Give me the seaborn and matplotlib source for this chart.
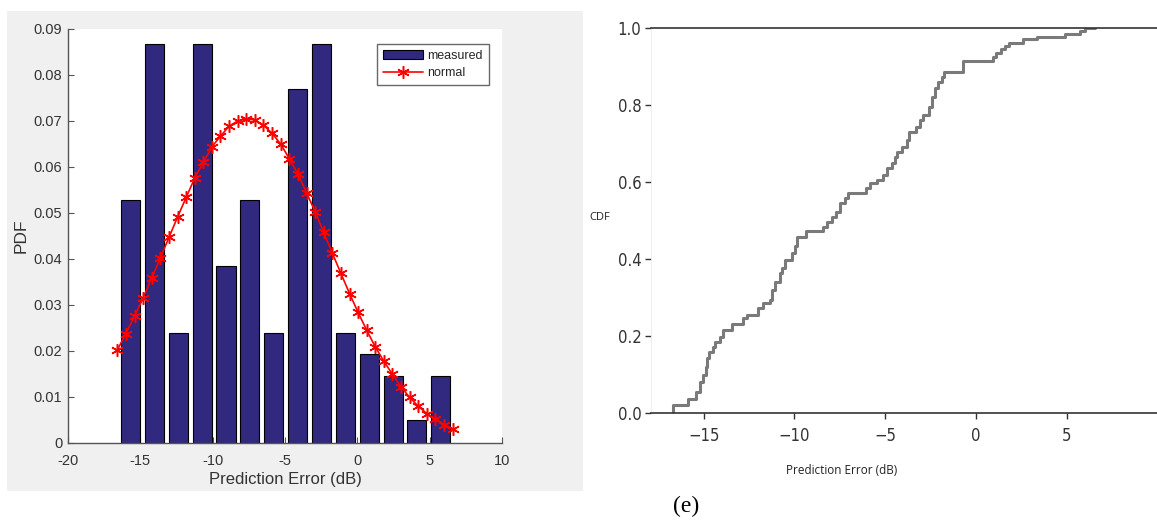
import numpy as np
import pandas as pd
import matplotlib
matplotlib.use("Agg")
import matplotlib.pyplot as plt
from matplotlib.patches import Rectangle
import seaborn as sns

# ---------------- data ----------------
bin_centers = [-15.68, -14.03, -12.38, -10.73, -9.08, -7.43, -5.78, -4.13,
               -2.48, -0.83, 0.82, 2.47, 4.12, 5.77]
pdf_measured = [0.0529, 0.0867, 0.0240, 0.0867, 0.0385, 0.0529, 0.0240, 0.0770,
                0.0867, 0.0240, 0.0193, 0.0145, 0.0049, 0.0145]

normal_x = [-16.59, -16.00, -15.40, -14.81, -14.21, -13.62, -13.02, -12.43,
            -11.83, -11.24, -10.65, -10.05, -9.46, -8.86, -8.27, -7.67,
            -7.08, -6.49, -5.89, -5.30, -4.70, -4.11, -3.51, -2.92,
            -2.33, -1.73, -1.14, -0.54, 0.05, 0.65, 1.24, 1.83,
            2.43, 3.02, 3.62, 4.21, 4.81, 5.40, 6.00, 6.59]
normal_pdf = [0.0202, 0.0238, 0.0276, 0.0315, 0.0359, 0.0402, 0.0447, 0.0491,
              0.0534, 0.0576, 0.0610, 0.0644, 0.0667, 0.0689, 0.0700, 0.0705,
              0.0702, 0.0691, 0.0673, 0.0650, 0.0618, 0.0585, 0.0544, 0.0503,
              0.0458, 0.0413, 0.0369, 0.0325, 0.0284, 0.0245, 0.0209, 0.0178,
              0.0149, 0.0122, 0.0099, 0.0080, 0.0064, 0.0052, 0.0040, 0.0030]

cdf_x = [-16.71, -16.71, -15.84, -15.42, -15.20, -15.02, -14.89, -14.80, -14.69,
         -14.47, -14.38, -14.10, -13.92, -13.46, -12.85, -12.63, -11.99, -11.71,
         -11.35, -11.25, -11.07, -10.79, -10.70, -10.52, -10.15, -9.97, -9.84,
         -9.36, -8.41, -8.19, -7.95, -7.71, -7.49, -7.21, -7.03, -6.06, -5.84,
         -5.47, -5.10, -4.92, -4.64, -4.46, -4.37, -4.09, -3.82, -3.67, -3.30,
         -3.08, -2.90, -2.57, -2.44, -2.25, -2.07, -1.89, -1.76, -0.73, 0.92,
         1.11, 1.36, 1.60, 1.84, 2.61, 3.35, 4.91, 5.73, 6.01, 6.56]
cdf_y = [0.000, 0.021, 0.037, 0.056, 0.080, 0.100, 0.120, 0.143, 0.160,
         0.173, 0.186, 0.199, 0.216, 0.232, 0.247, 0.255, 0.272, 0.285,
         0.294, 0.320, 0.342, 0.363, 0.376, 0.398, 0.415, 0.433, 0.458,
         0.473, 0.484, 0.497, 0.510, 0.523, 0.545, 0.558, 0.571, 0.584, 0.597,
         0.606, 0.619, 0.636, 0.649, 0.666, 0.679, 0.692, 0.709, 0.730, 0.744,
         0.761, 0.774, 0.796, 0.822, 0.843, 0.861, 0.874, 0.887, 0.914, 0.926,
         0.936, 0.945, 0.953, 0.962, 0.971, 0.976, 0.984, 0.993, 1.000, 1.000]

left_yticks = [0, 0.01, 0.02, 0.03, 0.04, 0.05, 0.06, 0.07, 0.08, 0.09]
left_yticklabels = ["0", "0.01", "0.02", "0.03", "0.04", "0.05", "0.06", "0.07", "0.08", "0.09"]
left_xticks = [-20, -15, -10, -5, 0, 5, 10]
right_xticks = [-15, -10, -5, 0, 5]
right_yticks = [0.0, 0.2, 0.4, 0.6, 0.8, 1.0]

# ---------------- figure ----------------
sns.set_theme(style="white")
plt.rcParams["font.family"] = ["Liberation Sans", "DejaVu Sans"]

W, H = 1157, 527
fig = plt.figure(figsize=(W / 100, H / 100), dpi=100)
fig.patch.set_facecolor("white")

# grey MATLAB figure background for left panel
fig.patches.append(Rectangle((7 / W, 1 - 491 / H), 576 / W, 480 / H,
                             transform=fig.transFigure, facecolor="#f0f0f0",
                             edgecolor="none", zorder=-5))

# ---------- left panel ----------
ax1 = fig.add_axes([68 / W, 1 - 443 / H, 434 / W, 414 / H])
ax1.set_facecolor("white")
df_bar = pd.DataFrame({"x": bin_centers, "pdf": pdf_measured})
sns.barplot(data=df_bar, x="x", y="pdf", native_scale=True, width=0.8,
            color="#31287f", saturation=1, edgecolor="black", linewidth=0.8,
            label="measured", ax=ax1, zorder=2)
df_norm = pd.DataFrame({"x": normal_x, "pdf": normal_pdf})
sns.lineplot(data=df_norm, x="x", y="pdf", color="#ff0000", linewidth=1.2,
             marker=(6, 2, 0), markersize=9, markeredgecolor="#ff0000",
             markeredgewidth=1.1, label="normal", ax=ax1, zorder=3,
             estimator=None, sort=False)
ax1.set_xlim(-20, 10)
ax1.set_ylim(0, 0.09)
ax1.set_xticks(left_xticks)
ax1.set_xticklabels([str(t) for t in left_xticks])
ax1.set_yticks(left_yticks)
ax1.set_yticklabels(left_yticklabels)
for s in ["top", "right"]:
    ax1.spines[s].set_visible(False)
for s in ["left", "bottom"]:
    ax1.spines[s].set_color("#555555")
    ax1.spines[s].set_linewidth(1.0)
ax1.tick_params(axis="both", direction="in", length=4, width=0.8,
                colors="#555555", labelcolor="#333333", labelsize=10.5,
                left=True, bottom=True)
ax1.tick_params(axis="x", pad=8)
ax1.tick_params(axis="y", pad=4)
ax1.set_xlabel("Prediction Error (dB)", fontsize=12, color="#333333", labelpad=3)
ax1.set_ylabel("PDF", fontsize=12.5, color="#333333", labelpad=4)
ax1.grid(False)
handles, labels = ax1.get_legend_handles_labels()
order = [labels.index("measured"), labels.index("normal")]
leg = ax1.legend([handles[i] for i in order], [labels[i] for i in order],
                 loc="upper right", bbox_to_anchor=(0.97, 0.964), fontsize=9,
                 frameon=True, fancybox=False, edgecolor="#444444",
                 handlelength=3.2, handletextpad=0.3, borderpad=0.5,
                 labelspacing=0.4, borderaxespad=0)
leg.get_frame().set_linewidth(1.0)

# ---------- right panel ----------
ax2 = fig.add_axes([651 / W, 1 - 413.3 / H, 506 / W, 385.3 / H])
df_cdf = pd.DataFrame({"x": cdf_x, "cdf": cdf_y})
sns.lineplot(data=df_cdf, x="x", y="cdf", color="#7a7a7a", linewidth=2.2,
             drawstyle="steps-post", estimator=None, sort=False, ax=ax2)
ax2.set_xlim(-17.9, 9.97)
ax2.set_ylim(0, 1.0)
ax2.set_xticks(right_xticks)
ax2.set_xticklabels(["\u221215", "\u221210", "\u22125", "0", "5"])
ax2.set_yticks(right_yticks)
ax2.set_yticklabels(["0.0", "0.2", "0.4", "0.6", "0.8", "1.0"])
ax2.spines["right"].set_visible(False)
ax2.spines["left"].set_color("#ececec")
ax2.spines["left"].set_linewidth(0.6)
for s in ["top", "bottom"]:
    ax2.spines[s].set_color("#333333")
    ax2.spines[s].set_linewidth(1.2)
ax2.tick_params(axis="both", direction="out", length=4, width=1.0,
                colors="#333333", labelsize=12, left=True, bottom=True)
for lab in ax2.get_xticklabels() + ax2.get_yticklabels():
    lab.set_family(["DejaVu Sans"])
    lab.set_stretch("condensed")
ax2.tick_params(axis="x", pad=6)
ax2.tick_params(axis="y", pad=3)
ax2.set_xlabel("")
ax2.set_ylabel("")
ax2.grid(False)
fig.text(600 / W, 1 - 218 / H, "CDF", fontsize=8, color="#222222",
         family=["Open Sans", "DejaVu Sans"], ha="center", va="center")
fig.text(842 / W, 1 - 470 / H, "Prediction Error (dB)", fontsize=8.5,
         color="#222222", family=["Open Sans", "DejaVu Sans"],
         ha="center", va="center")
fig.text(673 / W, 1 - 506 / H, "(e)", fontsize=17, color="black",
         family=["Liberation Serif", "DejaVu Serif"], ha="left", va="center")

fig.savefig("out.png", dpi=100, facecolor="white")
